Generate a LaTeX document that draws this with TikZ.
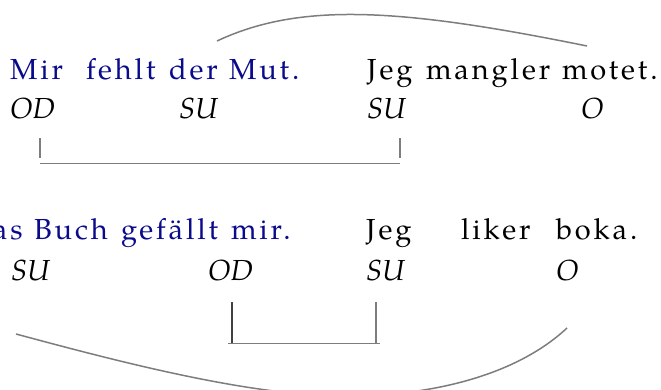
\documentclass[tikz,border=0pt]{standalone}
\usepackage{fontspec}
\setmainfont{texgyrepagella}[Extension=.otf, UprightFont=*-regular, ItalicFont=*-italic, LetterSpace=10]
\newfontfamily\glossfont{texgyrepagella}[Extension=.otf, UprightFont=*-italic]
\definecolor{german}{RGB}{10,10,140}
\definecolor{linkgray}{RGB}{125,125,125}
\tikzset{
  word/.style={anchor=base west, inner sep=0pt, outer sep=0pt, font=\fontsize{29}{34}\selectfont},
  de/.style={word, text=german},
  no/.style={word, text=black},
  fn/.style={anchor=base west, inner sep=0pt, outer sep=0pt, font=\fontsize{29}{34}\selectfont\glossfont},
  link/.style={draw=linkgray, line width=1.5pt},
  thinlink/.style={draw=linkgray, line width=1.1pt},
  darklink/.style={draw=black!75, line width=1.5pt}
}
\begin{document}
\begin{tikzpicture}[x=1pt,y=-1pt]
\useasboundingbox (0,0) rectangle (661,389);

% first pair: Mir fehlt der Mut. / Jeg mangler motet.
\node[de] (w1) at (10,79) {Mir};
\node[de] (w2) at (86,79) {fehlt};
\node[de] (w3) at (169,79) {der};
\node[de] (w4) at (229,79) {Mut.};
\node[no] (n1) at (367,79) {Jeg};
\node[no] (n2) at (426,79) {mangler};
\node[no] (n3) at (562,79) {motet.};

\node[fn] (f1) at (10,118) {OD};
\node[fn] (f2) at (179,118) {SU};
\node[fn] (f3) at (367,118) {SU};
\node[fn] (f4) at (581,118) {O};

% second pair: Das Buch gefällt mir. / Jeg liker boka.
\node[de] (v1) at (-7,239) {as};
\node[de] (v2) at (34,239) {Buch};
\node[de] (v3) at (121,239) {gefällt};
\node[de] (v4) at (231,239) {mir.};
\node[no] (m1) at (366,239) {Jeg};
\node[no] (m2) at (461,239) {liker};
\node[no] (m3) at (556,239) {boka.};

\node[fn] (g1) at (11,280) {SU};
\node[fn] (g2) at (208,280) {OD};
\node[fn] (g3) at (366,280) {SU};
\node[fn] (g4) at (556,280) {O};

% link end points
\coordinate (aL) at (217,41);
\coordinate (aR) at (587,46);
\coordinate (bL1) at (40,138);
\coordinate (bL2) at (40,158);
\coordinate (bR1) at (400,138);
\coordinate (bR2) at (400,158);
\coordinate (bHL) at (40,163.5);
\coordinate (bHR) at (400,163.5);
\coordinate (cL1) at (232,302);
\coordinate (cL2) at (232,343);
\coordinate (cR1) at (376,302);
\coordinate (cR2) at (376,343);
\coordinate (cHL) at (228,343.5);
\coordinate (cHR) at (380,343.5);
\coordinate (dL) at (16,334);
\coordinate (dB) at (345,396);
\coordinate (dR) at (567,328);

% arc over the first pair
\draw[link] (aL) .. controls (300,2) and (400,8) .. (aR);
% bracket under the first pair
\draw[thinlink] (bL1) -- (bL2);
\draw[thinlink] (bR1) -- (bR2);
\draw[link] (bHL) -- (bHR);
% bracket under the second pair
\draw[darklink] (cL1) -- (cL2);
\draw[link] (cR1) -- (cR2);
\draw[link] (cHL) -- (cHR);
% sweep under the second pair
\draw[link] (dL) .. controls (120,362) and (250,396) .. (dB)
               .. controls (440,396) and (520,372) .. (dR);
\end{tikzpicture}
\end{document}
